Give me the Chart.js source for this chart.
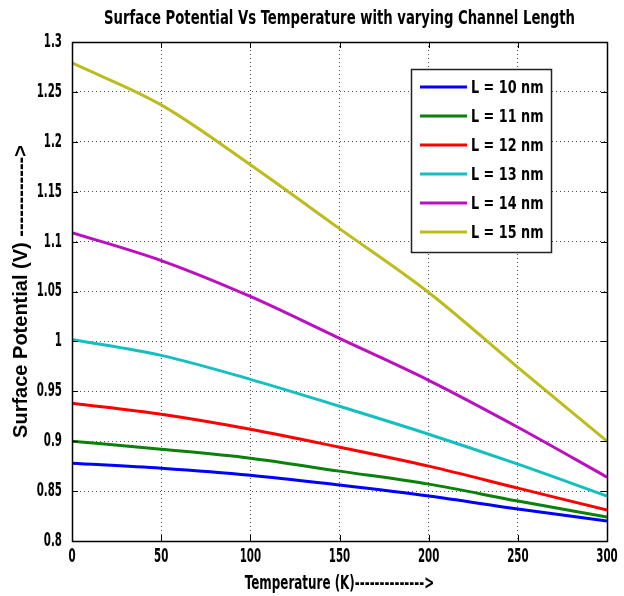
<!DOCTYPE html>
<html><head><meta charset="utf-8">
<script src="https://cdn.jsdelivr.net/npm/chart.js@4/dist/chart.umd.min.js"></script>
<style>html,body{margin:0;padding:0;background:#fff}#wrap{width:624px;height:596px}</style>
</head><body><div id="wrap"><canvas id="c" width="624" height="596"></canvas></div>
<script>
const temperatures = [0, 50, 100, 150, 200, 250, 300];
const seriesLabels = ['L = 10 nm', 'L = 11 nm', 'L = 12 nm', 'L = 13 nm', 'L = 14 nm', 'L = 15 nm'];
const L10 = [0.878, 0.873, 0.866, 0.856, 0.845, 0.832, 0.820];
const L11 = [0.900, 0.892, 0.883, 0.870, 0.857, 0.840, 0.824];
const L12 = [0.938, 0.927, 0.912, 0.894, 0.875, 0.853, 0.831];
const L13 = [1.002, 0.986, 0.962, 0.935, 0.907, 0.877, 0.845];
const L14 = [1.109, 1.081, 1.045, 1.003, 0.961, 0.914, 0.864];
const L15 = [1.279, 1.237, 1.177, 1.113, 1.049, 0.974, 0.900];
const xTicks = [0, 50, 100, 150, 200, 250, 300];
const yTicks = [0.8, 0.85, 0.9, 0.95, 1, 1.05, 1.1, 1.15, 1.2, 1.25, 1.3];
const seriesColors = ['#0000ff', '#0b800b', '#ff0000', '#14bfbf', '#bb10c0', '#bcbc1c'];
const titleText = 'Surface Potential Vs Temperature with varying Channel Length';
const xTitle = 'Temperature (K)-------------->';
const yTitle = 'Surface Potential (V) ------------>';

const allSeries = [L10, L11, L12, L13, L14, L15];
const COND = "'DejaVu Sans Condensed', 'DejaVu Sans', sans-serif";
// horizontal squeeze per font size, to imitate the very narrow font of the original
const textScaleBySize = {'20': 0.735, '19.5': 0.68, '19': 0.6, '18': 0.79};

const canvas = document.getElementById('c');
const ctx0 = canvas.getContext('2d');
(function installCondense(ctx) {
  const orig = ctx.fillText;
  ctx.fillText = function(text, x, y, maxWidth) {
    const f = this.font;
    const m = /(\d+(?:\.\d+)?)px/.exec(f);
    const sx = (m && !/Liberation/.test(f)) ? (textScaleBySize[m[1]] || 1) : 1;
    if (sx === 1) return maxWidth === undefined ? orig.call(this, text, x, y) : orig.call(this, text, x, y, maxWidth);
    this.save();
    this.translate(x, y);
    this.scale(sx, 1);
    orig.call(this, text, 0, 0);
    this.restore();
  };
})(ctx0);

const datasets = allSeries.map((vals, i) => ({
  label: seriesLabels[i],
  data: temperatures.map((t, j) => ({x: t, y: vals[j]})),
  borderColor: seriesColors[i],
  backgroundColor: seriesColors[i],
  borderWidth: 3,
  pointRadius: 0,
  cubicInterpolationMode: 'monotone',
  fill: false
}));

const framePlugin = {
  id: 'frame',
  afterDatasetsDraw(chart) {
    const {ctx, chartArea: a, scales} = chart;
    ctx.save();
    ctx.strokeStyle = '#000';
    ctx.lineWidth = 1;
    ctx.setLineDash([]);
    const tl = 6;
    ctx.beginPath();
    xTicks.forEach(v => {
      const px = Math.round(scales.x.getPixelForValue(v)) + 0.5;
      ctx.moveTo(px, a.bottom); ctx.lineTo(px, a.bottom - tl);
      ctx.moveTo(px, a.top); ctx.lineTo(px, a.top + tl);
    });
    yTicks.forEach(v => {
      const py = Math.round(scales.y.getPixelForValue(v)) + 0.5;
      ctx.moveTo(a.left, py); ctx.lineTo(a.left + tl, py);
      ctx.moveTo(a.right, py); ctx.lineTo(a.right - tl, py);
    });
    ctx.stroke();
    ctx.lineWidth = 1.5;
    ctx.strokeRect(Math.round(a.left) + 0.5, Math.round(a.top) + 0.5, Math.round(a.right - a.left), Math.round(a.bottom - a.top));
    ctx.restore();
  },
  afterDraw(chart) {
    const {ctx} = chart;
    const bx = 411, by = 69, bw = 140, bh = 183;
    ctx.save();
    ctx.fillStyle = '#fff';
    ctx.fillRect(bx, by, bw, bh);
    ctx.strokeStyle = '#222';
    ctx.lineWidth = 1.5;
    ctx.strokeRect(bx + 0.5, by + 0.5, bw, bh);
    ctx.font = "bold 18px " + COND;
    ctx.textBaseline = 'middle';
    ctx.textAlign = 'left';
    chart.data.datasets.forEach((ds, i) => {
      const y = 87 + i * 29;
      ctx.strokeStyle = ds.borderColor;
      ctx.lineWidth = 3;
      ctx.beginPath(); ctx.moveTo(420, y); ctx.lineTo(467, y); ctx.stroke();
      ctx.fillStyle = '#000';
      ctx.fillText(ds.label, 471, y + 1);
    });
    ctx.restore();
  }
};

new Chart(canvas, {
  type: 'line',
  data: {datasets},
  plugins: [framePlugin],
  options: {
    responsive: false,
    animation: false,
    devicePixelRatio: 1,
    layout: {padding: {left: 8, right: 17, top: 7, bottom: 0}},
    plugins: {
      legend: {display: false},
      tooltip: {enabled: false},
      title: {
        display: true, fullSize: false, text: titleText, color: '#000',
        font: {family: COND, size: 20, weight: 'bold', lineHeight: 1.2},
        padding: {top: 0, bottom: 11}
      }
    },
    scales: {
      x: {
        type: 'linear', min: 0, max: 300,
        afterBuildTicks: s => { s.ticks = xTicks.map(v => ({value: v})); },
        afterFit: s => { s.height = 55; s.paddingLeft = 0; s.paddingRight = 0; },
        ticks: {color: '#000', padding: 5, maxRotation: 0, font: {family: COND, size: 19, weight: 'bold'}, callback: v => String(v)},
        grid: {color: 'rgba(0,0,0,0.7)', lineWidth: 1, drawTicks: false},
        border: {display: false, dash: [1, 3]},
        title: {display: true, text: xTitle, color: '#000', font: {family: COND, size: 19.5, weight: 'bold'}, padding: {top: 0, bottom: 0}}
      },
      y: {
        type: 'linear', min: 0.8, max: 1.3,
        afterBuildTicks: s => { s.ticks = yTicks.map(v => ({value: v})); },
        afterFit: s => { s.width = 64; s.paddingTop = 0; s.paddingBottom = 0; },
        ticks: {color: '#000', padding: 10, font: {family: COND, size: 19, weight: 'bold'}, callback: v => String(Number(v.toFixed(2)))},
        grid: {color: 'rgba(0,0,0,0.7)', lineWidth: 1, drawTicks: false},
        border: {display: false, dash: [1, 3]},
        title: {display: true, text: yTitle, color: '#000', font: {family: "'Liberation Sans', Arial, sans-serif", size: 20, weight: 'bold'}, padding: {top: 1, bottom: 0}}
      }
    }
  }
});
</script></body></html>
